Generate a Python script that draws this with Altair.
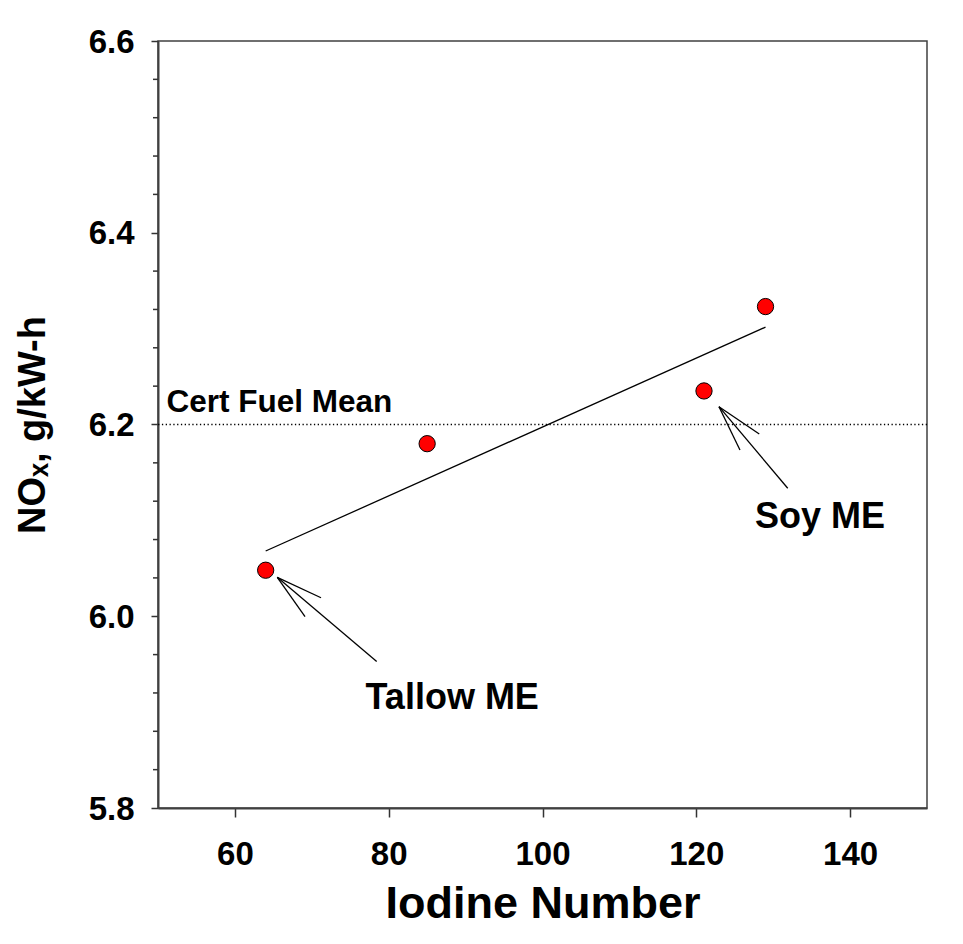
import altair as alt
import pandas as pd

# ---------------- data ----------------
iodine = [64, 85, 121, 129]
nox = [6.048, 6.180, 6.235, 6.323]

cert_fuel_mean = [6.2]
cert_label = ["Cert Fuel Mean"]
cert_label_x = [51.1]
cert_label_y = [6.213]

fuel_labels = ["Tallow ME", "Soy ME"]
fuel_label_x = [88.26, 136.09]
fuel_label_y = [5.903, 6.092]

# arrow segments (tip -> end), in data units
arrow_x = [65.51, 65.51, 65.51, 122.95, 122.95, 122.95]
arrow_y = [6.0406, 6.0406, 6.0406, 6.2186, 6.2186, 6.2186]
arrow_x2 = [78.44, 71.20, 69.12, 131.89, 128.19, 125.68]
arrow_y2 = [5.9528, 6.0193, 5.9995, 6.1335, 6.1901, 6.1734]

x_ticks = [60, 80, 100, 120, 140]
y_ticks = [5.8, 6.0, 6.2, 6.4, 6.6]
y_minor_ticks = [5.84, 5.88, 5.92, 5.96, 6.04, 6.08, 6.12, 6.16,
                 6.24, 6.28, 6.32, 6.36, 6.44, 6.48, 6.52, 6.56]

# ---------------- chart ----------------
FONT = "Liberation Sans"

xs = alt.Scale(domain=[50, 150], nice=False, zero=False)
ys = alt.Scale(domain=[5.8, 6.6], nice=False, zero=False)

x_axis = alt.Axis(values=x_ticks, format="d", title="Iodine Number",
                  tickSize=9, labelPadding=21, titlePadding=10,
                  titleFontSize=45)
y_axis = alt.Axis(values=y_ticks, format=".1f", title="NOₓ, g/kW-h",
                  tickSize=7, labelPadding=17, titlePadding=36,
                  titleFontSize=38, labelOffset=1)

X = alt.X("iodine:Q", scale=xs, axis=x_axis)
Y = alt.Y("nox:Q", scale=ys, axis=y_axis)

pts_df = pd.DataFrame({"iodine": iodine, "nox": nox})

points = alt.Chart(pts_df).mark_circle(
    color="#ff0000", stroke="black", strokeWidth=1, size=265, opacity=1
).encode(x=X, y=Y)

fit = alt.Chart(pts_df).transform_regression(
    "iodine", "nox"
).mark_line(color="black", strokeWidth=1.3).encode(x=X, y=Y)

cert_line = alt.Chart(pd.DataFrame({"nox": cert_fuel_mean})).mark_rule(
    color="black", strokeWidth=1.5, strokeDash=[1.3, 2.5]
).encode(y=Y)

minor = alt.Chart(pd.DataFrame({"nox": y_minor_ticks})).mark_rule(
    color="#333333", strokeWidth=1.5
).encode(y=Y, x=alt.value(-5), x2=alt.value(0))

cert_text = alt.Chart(pd.DataFrame({
    "iodine": cert_label_x, "nox": cert_label_y, "label": cert_label
})).mark_text(
    font=FONT, fontWeight="bold", fontSize=31.5, align="left",
    baseline="alphabetic", color="black"
).encode(x=X, y=Y, text="label:N")

fuel_text = alt.Chart(pd.DataFrame({
    "iodine": fuel_label_x, "nox": fuel_label_y, "label": fuel_labels
})).mark_text(
    font=FONT, fontWeight="bold", fontSize=36, align="center",
    baseline="alphabetic", color="black"
).encode(x=X, y=Y, text="label:N")

arrows = alt.Chart(pd.DataFrame({
    "iodine": arrow_x, "nox": arrow_y, "iodine2": arrow_x2, "nox2": arrow_y2
})).mark_rule(color="black", strokeWidth=1.3).encode(
    x=X, y=Y, x2="iodine2:Q", y2="nox2:Q"
)

chart = alt.layer(
    cert_line, minor, fit, arrows, points, cert_text, fuel_text
).properties(
    width=769, height=767,
    padding={"left": 158, "top": 41, "right": 36, "bottom": 136},
    autosize=alt.AutoSizeParams(type="none"),
    background="white",
).configure_view(
    stroke="#404040", strokeWidth=1.5
).configure_axis(
    labelFont=FONT, labelFontWeight="bold", labelFontSize=33, labelColor="black",
    titleFont=FONT, titleFontWeight="bold", titleColor="black",
    domainColor="#404040", domainWidth=2,
    tickColor="#333333", tickWidth=1.5, grid=False,
)

chart.save("out.html", embed_options={"renderer": "svg", "actions": False})
